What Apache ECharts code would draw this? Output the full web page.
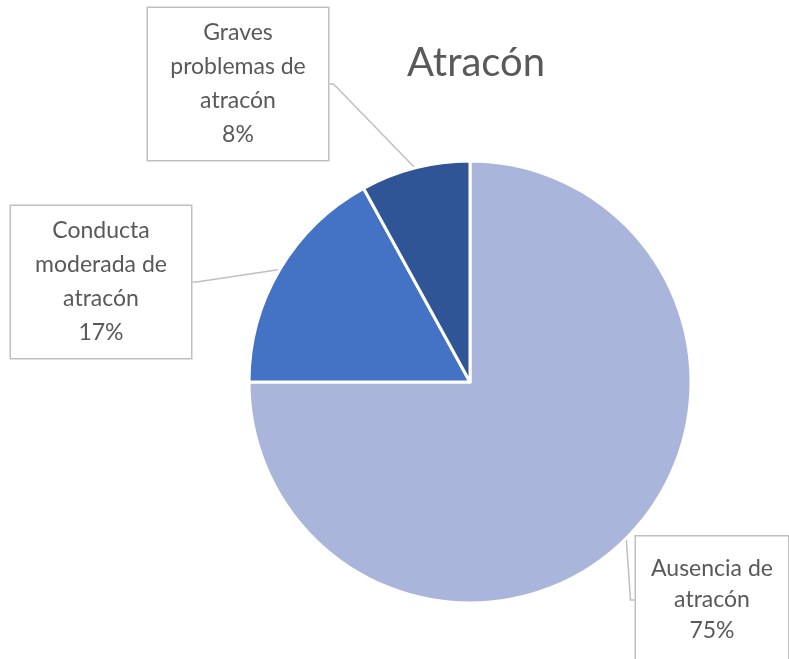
<!DOCTYPE html>
<html>
<head>
<meta charset="utf-8">
<script src="https://cdn.jsdelivr.net/npm/echarts@6/dist/echarts.min.js"></script>
<style>
  html, body { margin: 0; padding: 0; background: #fff; }
  #chart { width: 789px; height: 659px; }
</style>
</head>
<body>
<div id="chart"></div>
<script>
const categories = ['Ausencia de\natracón', 'Conducta\nmoderada de\natracón', 'Graves\nproblemas de\natracón'];
const values = [75, 17, 8];
const sliceColors = ['#A9B5DB', '#4472C4', '#2F5597'];

// where each callout box sits (centre of the box)
const boxSpots = [
  { x: 712, y: 600 },
  { x: 101, y: 282 },
  { x: 238, y: 84 }
];

const chart = echarts.init(document.getElementById('chart'));

const option = {
  animation: false,
  title: {
    text: 'Atracón',
    left: 471,
    top: 38,
    textAlign: 'center',
    textStyle: {
      color: '#595959',
      fontSize: 40,
      fontWeight: 'normal',
      fontFamily: 'Lato, sans-serif'
    }
  },
  series: [
    {
      type: 'pie',
      center: [470, 382],
      radius: 221,
      startAngle: 90,
      clockwise: true,
      itemStyle: {
        borderColor: '#fff',
        borderWidth: 3
      },
      label: {
        show: true,
        position: 'outside',
        formatter: '{b}\n{d}%',
        color: '#595959',
        fontSize: 23,
        fontFamily: 'Lato, sans-serif',
        lineHeight: 34,
        align: 'center',
        backgroundColor: '#fff',
        borderColor: '#BFBFBF',
        borderWidth: 1.5,
        width: 160,
        padding: [8, 10, 8, 10]
      },
      labelLine: {
        show: true,
        length: 6,
        length2: 4,
        lineStyle: { color: '#BFBFBF', width: 1.5 }
      },
      labelLayout: function (params) {
        const spot = boxSpots[params.dataIndex];
        return {
          x: spot.x,
          y: spot.y,
          align: 'center',
          verticalAlign: 'middle'
        };
      },
      emphasis: { disabled: true },
      data: values.map((v, i) => ({
        name: categories[i],
        value: v,
        itemStyle: { color: sliceColors[i] },
        label: i === 0
          ? { width: 132, padding: [14, 10, 20, 10], lineHeight: 31 }
          : {}
      }))
    }
  ]
};

chart.setOption(option);
</script>
</body>
</html>
